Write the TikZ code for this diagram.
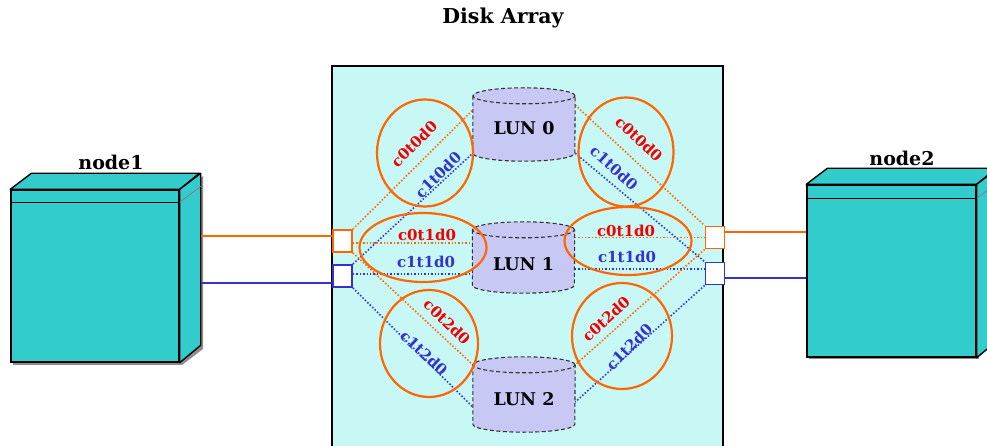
\documentclass[tikz,border=0pt]{standalone}
\usepackage{fontspec}
\setmainfont{DejaVu Serif}
\usetikzlibrary{shapes.geometric,calc}

\definecolor{arrayfill}{RGB}{200,248,245}
\definecolor{lunfill}{RGB}{200,200,245}
\definecolor{hostfill}{RGB}{51,204,204}
\definecolor{pathA}{RGB}{255,102,0}
\definecolor{pathB}{RGB}{51,51,204}
\definecolor{tagA}{RGB}{240,0,0}

% cylinder outline drawn around a (text-less) body node
\newcommand\drawlun[1]{%
  \fill[lunfill] (#1.north west) -- (#1.south west)
    arc[start angle=180,end angle=360,x radius=51pt,y radius=8pt]
    -- (#1.north east)
    arc[start angle=0,end angle=180,x radius=51pt,y radius=8pt] -- cycle;
  \draw[lunline] (#1.north west) -- (#1.south west)
    arc[start angle=180,end angle=360,x radius=51pt,y radius=8pt]
    -- (#1.north east);
  \draw[lunline] (#1.north) ellipse[x radius=51pt,y radius=8pt];
}

\begin{document}
\begin{tikzpicture}[x=1pt,y=-1pt,
  hostface/.style={draw=black, line width=1.4pt, fill=hostfill,
    minimum height=172pt, inner sep=0pt},
  hostside/.style={draw=black, line width=1.4pt, fill=hostfill, line join=round},
  hostshadow/.style={fill=black!45},
  hostname/.style={font=\fontsize{19}{21}\selectfont\bfseries},
  titlefont/.style={font=\fontsize{20.5}{23}\selectfont\bfseries},
  arraybox/.style={draw=black, line width=1.6pt, fill=arrayfill,
    minimum width=391pt, minimum height=400pt, inner sep=0pt},
  port/.style={draw, line width=1.8pt, fill=white,
    minimum width=19pt, minimum height=22pt, inner sep=0pt},
  lunbody/.style={minimum width=102pt, inner sep=0pt},
  lunline/.style={draw=black!80, line width=1.1pt, dash pattern=on 4pt off 2.5pt},
  lunname/.style={font=\fontsize{17.5}{19}\selectfont\bfseries},
  ring/.style={ellipse, draw=pathA, line width=2.2pt, inner sep=0pt},
  cable/.style={line width=1.8pt},
  route/.style={line width=1.6pt, dash pattern=on 1.5pt off 1.9pt},
  tag/.style={font=\fontsize{15}{17}\selectfont\bfseries, inner sep=0pt},
]
\useasboundingbox (0,0) rectangle (987,446);
\clip (0,0) rectangle (987,446);

% ---- disk array enclosure ----
\node[arraybox] (array) at (527.5,266) {};
\node[titlefont] (arraytitle) at (503,18) {Disk Array};

% ---- LUN bodies ----
\node[lunbody, minimum height=57pt] (lun0) at (524,124.5) {};
\node[lunbody, minimum height=55pt] (lun1) at (523.5,257.5) {};
\node[lunbody, minimum height=59pt] (lun2) at (524,394.5) {};

% ---- ports ----
\node[port, draw=pathA] (p1o) at (342.5,241) {};
\node[port, draw=pathB] (p1b) at (342.5,276) {};
\node[port, draw=pathA] (p2o) at (715,237.5) {};
\node[port, draw=pathB] (p2b) at (715,273.5) {};

% ---- paths from the left ports ----
\draw[route, pathA] (p1o.north east) -- ([yshift=14.5pt]lun0.west);
\draw[route, pathB] (p1b.north east) -- (lun0.south west);
\draw[route, pathA] ([yshift=-2pt]p1o.east) -- ([yshift=-2pt]p1o.east -| lun1.west);
\draw[route, pathB] ([yshift=2pt]p1b.east) -- ([yshift=2pt]p1b.east -| lun1.west);
\draw[route, pathA] (p1o.south east) -- (lun2.north west);
\draw[route, pathB] (p1b.south east) -- ([yshift=-12.5pt]lun2.west);

% ---- paths to the right ports ----
\draw[route, pathA] ([yshift=19.5pt]lun0.east) -- (p2o.north west);
\draw[route, pathB] (lun0.south east) -- (p2b.north west);
\draw[route, pathA] (p2o.west -| lun1.east) -- (p2o.west);
\draw[route, pathB] ([yshift=4.5pt]p2b.west -| lun1.east) -- ([yshift=4.5pt]p2b.west);
\draw[route, pathA] (p2o.south west) -- (lun2.north east);
\draw[route, pathB] (p2b.south west) -- ([yshift=-7.5pt]lun2.east);

% ---- cylinders ----
\drawlun{lun0}
\drawlun{lun1}
\drawlun{lun2}
\node[lunname] at ([yshift=-4pt]lun0.center) {LUN 0};
\node[lunname] at ([yshift=-7pt]lun1.center) {LUN 1};
\node[lunname] at ([yshift=-5pt]lun2.center) {LUN 2};

% ---- device-name rings ----
\node[ring, minimum width=96pt,  minimum height=107pt] (r0l) at (425,153) {};
\node[ring, minimum width=95pt,  minimum height=109pt] (r0r) at (626,152) {};
\node[ring, minimum width=127pt, minimum height=69pt]  (r1l) at (423,247.5) {};
\node[ring, minimum width=127pt, minimum height=68pt]  (r1r) at (628,241) {};
\node[ring, minimum width=98pt,  minimum height=107pt] (r2l) at (429,343.5) {};
\node[ring, minimum width=100pt, minimum height=106pt] (r2r) at (622,336) {};

% ---- device names ----
\node[tag, text=tagA,  rotate=45]  (t00l) at (414,144) {c0t0d0};
\node[tag, text=pathB, rotate=45]  (t10l) at (438,175) {c1t0d0};
\node[tag, text=tagA,  rotate=-43] (t00r) at (639,139) {c0t0d0};
\node[tag, text=pathB, rotate=-42] (t10r) at (614,168) {c1t0d0};
\node[tag, text=tagA]              (t01l) at (427,235) {c0t1d0};
\node[tag, text=pathB]             (t11l) at (426,262) {c1t1d0};
\node[tag, text=tagA]              (t01r) at (626,231) {c0t1d0};
\node[tag, text=pathB]             (t11r) at (627,257) {c1t1d0};
\node[tag, text=tagA,  rotate=-44] (t02l) at (447,322) {c0t2d0};
\node[tag, text=pathB, rotate=-43] (t12l) at (424,353) {c1t2d0};
\node[tag, text=tagA,  rotate=42]  (t02r) at (606,319) {c0t2d0};
\node[tag, text=pathB, rotate=45]  (t12r) at (629,347) {c1t2d0};

% ---- host node1 ----
\fill[hostshadow] (13,192) rectangle (182,365);
\fill[hostshadow] (182,365) -- (203,349) -- (203,176) -- (182,192) -- cycle;
\node[hostface, minimum width=168pt] (h1) at (95,276) {};
\draw[hostside] (h1.north west) -- ++(21,-16) -- ++(168,0) -- (h1.north east) -- cycle;
\draw[hostside] (h1.north east) -- ++(21,-16) -- ++(0,172) -- (h1.south east) -- cycle;
\draw[line width=1.4pt] ([yshift=-13pt]h1.north west) -- ([yshift=-13pt]h1.north east);
\draw[gray, line width=0.8pt] ([yshift=-13pt]h1.north east) -- ++(21,-16);
\coordinate (h1side) at ($(h1.east)+(21,0)$);
\node[hostname] (h1name) at (111,162) {node1};

% ---- host node2 ----
\fill[hostshadow] (809,187) rectangle (979,359);
\node[hostface, minimum width=169pt] (h2) at (891.5,271) {};
\draw[hostside] (h2.north west) -- ++(21,-16) -- ++(169,0) -- (h2.north east) -- cycle;
\draw[hostside] (h2.north east) -- ++(21,-16) -- ++(0,172) -- (h2.south east) -- cycle;
\draw[line width=1.4pt] ([yshift=-14pt]h2.north west) -- ([yshift=-14pt]h2.north east);
\draw[gray, line width=0.8pt] ([yshift=-14pt]h2.north east) -- ++(21,-16);
\node[hostname] (h2name) at (902,158) {node2};

% ---- host cables ----
\draw[cable, pathA] ([yshift=5pt]p1o.west) -- ([yshift=5pt]p1o.west -| h1side);
\draw[cable, pathB] ([yshift=-7pt]p1b.west) -- ([yshift=-7pt]p1b.west -| h1side);
\draw[cable, pathA] ([yshift=5.5pt]p2o.east) -- ([yshift=5.5pt]p2o.east -| h2.west);
\draw[cable, pathB] ([yshift=-4.5pt]p2b.east) -- ([yshift=-4.5pt]p2b.east -| h2.west);
\end{tikzpicture}
\end{document}
